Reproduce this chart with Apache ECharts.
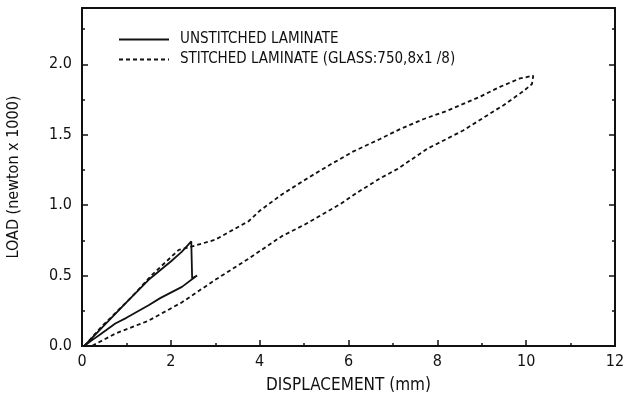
<!DOCTYPE html>
<html>
<head>
<meta charset="utf-8">
<script src="https://cdn.jsdelivr.net/npm/echarts@6/dist/echarts.min.js"></script>
<style>
  html, body { margin: 0; padding: 0; background: #fff; }
  #chart { width: 626px; height: 398px; }
</style>
</head>
<body>
<div id="chart"></div>
<script>
// displacement (mm), load (newton x 1000)
var unstitchedX = [0.05, 0.45, 1.0, 1.5, 2.0, 2.25, 2.46, 2.48, 2.59, 2.25, 1.76, 1.5, 1.0, 0.75, 0.4, 0.22, 0.05]
var unstitchedY = [0.0, 0.13, 0.31, 0.47, 0.6, 0.67, 0.743, 0.48, 0.5, 0.42, 0.34, 0.29, 0.2, 0.16, 0.08, 0.04, 0.0]

var stitchedX = [0.05, 0.45, 1.125, 1.575, 2.0, 2.18, 2.48, 3.0, 3.75, 4.0, 4.5, 5.07, 5.6, 6.1, 6.71, 7.16, 7.68, 8.22, 8.96, 9.41, 9.86, 10.16,
  10.13, 9.94, 9.49, 8.58, 7.77, 7.12, 6.71, 6.2, 5.81, 5.0, 4.5, 3.75, 3.0, 2.25, 1.5, 0.75, 0.22]
var stitchedY = [0.0, 0.14, 0.35, 0.505, 0.63, 0.683, 0.707, 0.755, 0.886, 0.96, 1.076, 1.19, 1.29, 1.38, 1.47, 1.54, 1.61, 1.67, 1.77, 1.84, 1.9, 1.919,
  1.86, 1.81, 1.71, 1.53, 1.4, 1.26, 1.19, 1.09, 1.007, 0.86, 0.78, 0.62, 0.47, 0.31, 0.18, 0.088, 0.0]

var seriesNames = ['UNSTITCHED LAMINATE', 'STITCHED LAMINATE (GLASS:750,8x1 /8)']

function pairs(xs, ys) {
  var out = []
  for (var i = 0; i < xs.length; i++) out.push([xs[i], ys[i]])
  return out
}

var chart = echarts.init(document.getElementById('chart'))
var fontName = '"Liberation Sans Narrow", "DejaVu Sans Condensed", "Liberation Sans", sans-serif'
var black = '#111'

var option = {
  animation: false,
  textStyle: { fontFamily: fontName, color: black },
  grid: { left: 82, right: 11, top: 8, bottom: 52, outerBoundsMode: 'none', containLabel: false,
    show: true, borderColor: black, borderWidth: 2 },
  legend: {
    orient: 'vertical',
    left: 113,
    top: 27,
    itemWidth: 50,
    itemHeight: 12,
    itemGap: 5,
    data: seriesNames,
    itemStyle: { opacity: 0 },
    textStyle: { fontFamily: fontName, fontSize: 15, color: black, padding: [0, 0, 0, 6] }
  },
  xAxis: {
    type: 'value',
    min: 0,
    max: 12,
    interval: 2,
    name: 'DISPLACEMENT (mm)',
    nameLocation: 'middle',
    nameGap: 31,
    nameTextStyle: { fontFamily: fontName, fontSize: 17, color: black },
    axisLine: { show: true, lineStyle: { color: black, width: 2 } },
    axisTick: { inside: true, length: 6, lineStyle: { color: black, width: 1.5 } },
    minorTick: { show: true, splitNumber: 2, length: 3, lineStyle: { color: black, width: 1.5 } },
    axisLabel: { fontFamily: fontName, fontSize: 16, color: black, margin: 8 },
    splitLine: { show: false }
  },
  yAxis: [{
    type: 'value',
    min: 0,
    max: 2.4,
    interval: 0.5,
    name: 'LOAD (newton x 1000)',
    nameLocation: 'middle',
    nameGap: 60,
    nameTextStyle: { fontFamily: fontName, fontSize: 16, color: black },
    axisLine: { show: true, lineStyle: { color: black, width: 2 } },
    axisTick: { inside: true, length: 6, lineStyle: { color: black, width: 1.5 } },
    minorTick: { show: true, splitNumber: 2, length: 3, lineStyle: { color: black, width: 1.5 } },
    axisLabel: { fontFamily: fontName, fontSize: 16, color: black, margin: 10, showMaxLabel: false,
      formatter: function (v) { return v.toFixed(1) } },
    splitLine: { show: false }
  }, {
    type: 'value',
    position: 'right',
    min: 0,
    max: 2.4,
    interval: 0.5,
    axisLine: { show: true, lineStyle: { color: black, width: 2 } },
    axisTick: { inside: true, length: 6, lineStyle: { color: black, width: 1.5 } },
    minorTick: { show: true, splitNumber: 2, length: 3, lineStyle: { color: black, width: 1.5 } },
    axisLabel: { show: false },
    splitLine: { show: false }
  }],
  series: [{
    name: seriesNames[0],
    type: 'line',
    data: pairs(unstitchedX, unstitchedY),
    showSymbol: false,
    symbol: 'none',
    color: black,
    lineStyle: { color: black, width: 1.8, type: 'solid' }
  }, {
    name: seriesNames[1],
    type: 'line',
    data: pairs(stitchedX, stitchedY),
    showSymbol: false,
    symbol: 'none',
    color: black,
    lineStyle: { color: black, width: 1.8, type: [4, 3] }
  }]
}
chart.setOption(option)
</script>
</body>
</html>
